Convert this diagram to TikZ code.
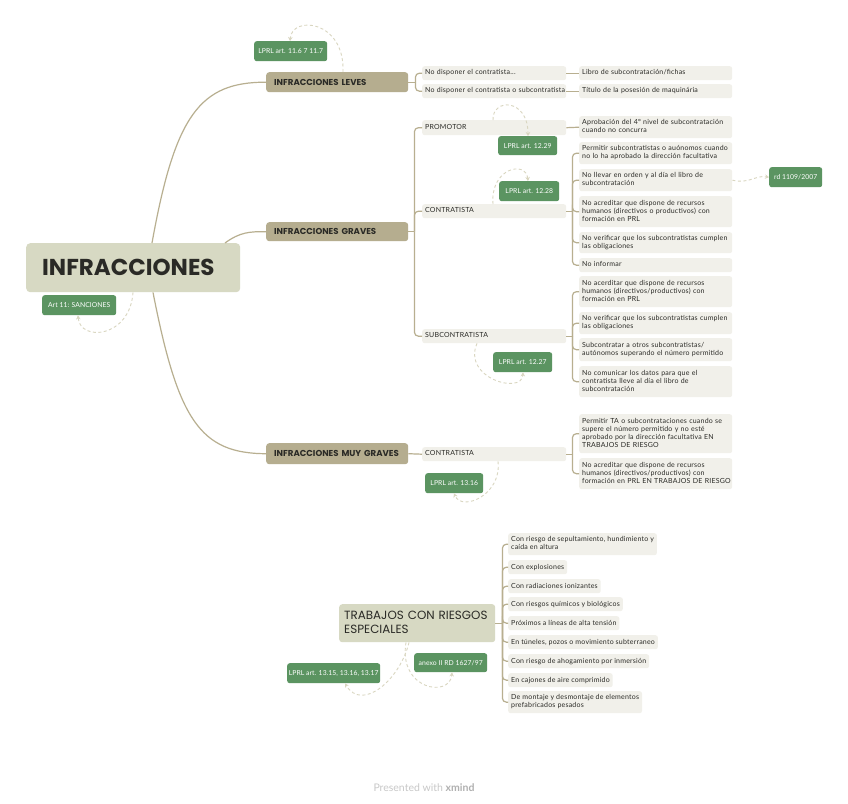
\documentclass[tikz,border=0pt]{standalone}
\usepackage{fontspec}
\setmainfont{Lato}
\newfontfamily\smallf{Lato}[LetterSpace=3]
\newfontfamily\greenf{Lato}[LetterSpace=1]
\newfontfamily\headfont{Poppins}
\usetikzlibrary{arrows.meta,calc}
\newcommand\lns[1]{\begin{tabular}{@{}l@{}}#1\end{tabular}}
\definecolor{tanfill}{HTML}{B5AD8F}
\definecolor{rootfill}{HTML}{D7D9C3}
\definecolor{subfill}{HTML}{F1F0EA}
\definecolor{greenfill}{HTML}{5B9461}
\definecolor{connc}{HTML}{B8AF90}
\definecolor{relc}{HTML}{D9D6C0}
\definecolor{txt}{HTML}{2A2A26}
\definecolor{footc}{HTML}{C8C8C8}
\definecolor{footb}{HTML}{B0B0B0}
\begin{document}
\begin{tikzpicture}[x=1pt,y=-1pt,
  sub/.style={fill=subfill, rounded corners=2.5pt, inner xsep=3pt, inner ysep=0.5pt,
    font=\smallf\fontsize{7}{8}\selectfont, text=txt, align=left, anchor=north west},
  wsub/.style={sub, text width=147pt, minimum height=#1},
  msub/.style={sub, text width=138pt, minimum height=14pt},
  tsub/.style={sub, minimum height=#1},
  greenbox/.style={fill=greenfill, text=white, rounded corners=2.5pt, inner sep=1pt,
    font=\greenf\fontsize{6.8}{8}\selectfont, anchor=north west, minimum height=20pt},
  maintopic/.style={fill=tanfill, rounded corners=3pt, inner xsep=8pt, inner ysep=1pt,
    text width=126pt, minimum height=20pt, align=left, anchor=north west, text=txt,
    font=\headfont\bfseries\fontsize{8.6}{10}\selectfont},
  conn/.style={draw=connc, line width=1.2pt},
  bracket/.style={conn, rounded corners=4pt},
  rel/.style={draw=relc, line width=0.9pt, dash pattern=on 3pt off 2.5pt,
    -{Stealth[length=4pt,width=4.5pt]}}
]
\useasboundingbox[fill=white] (0,0) rectangle (848,803);

% root
\node[fill=rootfill, rounded corners=4pt, anchor=north west, minimum height=49pt,
  text width=182pt, inner xsep=16pt, align=left, text=txt,
  font=\headfont\bfseries\fontsize{23}{26}\selectfont] (root) at (26,243) {\mbox{INFRACCIONES}};
\node[greenbox, minimum width=74pt] (art11) at (42,295) {Art 11: SANCIONES};

% main topics
\node[maintopic] (leves) at (266,72) {\mbox{INFRACCIONES LEVES}};
\node[maintopic, minimum height=19pt] (graves) at (266,222) {\mbox{INFRACCIONES GRAVES}};
\node[maintopic, minimum height=21pt] (muy) at (266,443) {\mbox{INFRACCIONES MUY GRAVES}};

% leves
\node[msub] (l1) at (422,66) {\lns{No disponer el contratista...}};
\node[msub] (l2) at (422,84) {\lns{No disponer el contratista o subcontratista}};
\node[wsub=14pt] (l1b) at (579,66) {\lns{Libro de subcontratación/fichas}};
\node[wsub=14pt] (l2b) at (579,84) {\lns{Título de la posesión de maquinária}};
\node[greenbox, minimum width=73pt] (g1) at (254,41) {LPRL art. 11.6 7 11.7};

% graves
\node[msub, minimum height=15pt] (promotor) at (422,120) {\lns{PROMOTOR}};
\node[wsub=22pt] (aprob) at (579,116) {\lns{Aprobación del 4º nivel de subcontratación\\cuando no concurra}};
\node[greenbox, minimum width=59pt, minimum height=19pt] (g2) at (498,136) {LPRL art. 12.29};

\node[msub] (contr) at (422,204) {\lns{CONTRATISTA}};
\node[wsub=22pt] (c1) at (579,142) {\lns{Permitir subcontratistas o auónomos cuando\\no lo ha aprobado la dirección facultativa}};
\node[wsub=22pt] (c2) at (579,169) {\lns{No llevar en orden y al día el libro de\\subcontratación}};
\node[wsub=31pt] (c3) at (579,196) {\lns{No acreditar que dispone de recursos\\humanos (directivos o productivos) con\\formación en PRL}};
\node[wsub=21pt] (c4) at (579,232) {\lns{No verificar que los subcontratistas cumplen\\las obligaciones}};
\node[wsub=14pt] (c5) at (579,258) {\lns{No informar}};
\node[greenbox, minimum width=60pt] (g3) at (499,181) {LPRL art. 12.28};
\node[greenbox, minimum width=53pt] (rd) at (769,167) {rd 1109/2007};

\node[msub] (subc) at (422,329) {\lns{SUBCONTRATISTA}};
\node[wsub=31pt] (s1) at (579,276) {\lns{No acerditar que dispone de recursos\\humanos (directivos/productivos) con\\formación en PRL}};
\node[wsub=22pt] (s2) at (579,312) {\lns{No verificar que los subcontratistas cumplen\\las obligaciones}};
\node[wsub=23pt] (s3) at (579,338) {\lns{Subcontratar a otros subcontratistas/\\autónomos superando el número permitido}};
\node[wsub=31pt] (s4) at (579,366) {\lns{No comunicar los datos para que el\\contratista lleve al día el libro de\\subcontratación}};
\node[greenbox, minimum width=59pt] (g4) at (493,352) {LPRL art. 12.27};

% muy graves
\node[msub] (mc) at (422,447) {\lns{CONTRATISTA}};
\node[wsub=39pt] (m1) at (579,414) {\lns{Permitir TA o subcontrataciones cuando se\\supere el número permitido y no esté\\aprobado por la dirección facultativa EN\\TRABAJOS DE RIESGO}};
\node[wsub=31pt] (m2) at (579,458) {\lns{No acreditar que dispone de recursos\\humanos (directivos/productivos) con\\formación en PRL EN TRABAJOS DE RIESGO}};
\node[greenbox, minimum width=58pt] (g5) at (425,473) {LPRL art. 13.16};

% trabajos
\node[fill=rootfill, rounded corners=3pt, anchor=north west, minimum height=38pt,
  text width=146pt, inner xsep=5pt, inner ysep=1pt, align=left, text=txt,
  font=\headfont\fontsize{11.9}{14}\selectfont] (trab) at (339,604) {\lns{TRABAJOS CON RIESGOS\\ESPECIALES}};
\node[tsub=22pt] (t1) at (508,533) {\lns{Con riesgo de sepultamiento, hundimiento y\\caída en altura}};
\node[tsub=14pt] (t2) at (508,560) {Con explosiones};
\node[tsub=14pt] (t3) at (508,579) {Con radiaciones ionizantes};
\node[tsub=14pt] (t4) at (508,597) {Con riesgos químicos y biológicos};
\node[tsub=14pt] (t5) at (508,616) {Próximos a líneas de alta tensión};
\node[tsub=14pt] (t6) at (508,635) {En túneles, pozos o movimiento subterraneo};
\node[tsub=14pt] (t7) at (508,654) {Con riesgo de ahogamiento por inmersión};
\node[tsub=14pt] (t8) at (508,673) {En cajones de aire comprimido};
\node[tsub=22pt] (t9) at (508,691) {\lns{De montaje y desmontaje de elementos\\prefabricados pesados}};
\node[greenbox, minimum width=73pt, minimum height=19pt] (anexo) at (414,653) {anexo II RD 1627/97};
\node[greenbox, minimum width=93pt] (g7) at (287,663) {LPRL art. 13.15, 13.16, 13.17};

\node[text=footc, font=\fontsize{10.5}{12}\selectfont, inner sep=0pt] (foot) at (424,788) {Presented with \textcolor{footb}{\textbf{xmind}}};

% root connectors
\draw[conn] ($(root.north west)+(126,0)$) .. controls (175,115) and (200,82) .. (leves.west);
\draw[conn] ($(root.north west)+(199,0)$) .. controls (240,232) and (250,231.5) .. (graves.west);
\draw[conn] ($(root.south west)+(127,0)$) .. controls (178,420) and (200,453.5) .. (muy.west);

% leves branches
\draw[conn] (leves.east) -- ++(7,0) coordinate (jl);
\draw[bracket] (jl) |- (l1.west);
\draw[bracket] (jl) |- (l2.west);
\draw[conn] (l1.east) -- (l1b.west);
\draw[conn] (l2.east) -- (l2b.west);

% graves branches
\draw[conn] (graves.east) -- ++(6,0) coordinate (jg);
\draw[bracket] (jg) |- (promotor.west);
\draw[bracket] (jg) |- (contr.west);
\draw[bracket] (jg) |- (subc.west);
\draw[conn] (promotor.east) -- (aprob.west);
\draw[conn] (contr.east) -- ++(6,0) coordinate (jc);
\foreach \n in {c1,c2,c3,c4,c5} \draw[bracket] (jc) |- (\n.west);
\draw[conn] (subc.east) -- ++(6,0) coordinate (js);
\foreach \n in {s1,s2,s3,s4} \draw[bracket] (js) |- (\n.west);

% muy graves branches
\draw[conn] (muy.east) -- (mc.west);
\draw[conn] (mc.east) -- ++(6,0) coordinate (jm);
\foreach \n in {m1,m2} \draw[bracket] (jm) |- (\n.west);

% trabajos branches
\draw[conn] (trab.east) -- ++(7,0) coordinate (jt);
\foreach \n in {t1,t2,t3,t4,t5,t6,t7,t8,t9} \draw[bracket] (jt) |- (\n.west);

% relationships
\draw[rel] ($(root.south west)+(107,0)$) .. controls (130,338) and (80,342) .. ($(art11.south west)+(36,0)$);
\draw[rel] ($(leves.north west)+(77,0)$) .. controls (345,20) and (292,15) .. ($(g1.north west)+(36,0)$);
\draw[rel] ($(promotor.north west)+(71,0)$) .. controls (492,98) and (528,98) .. ($(g2.north west)+(30,0)$);
\draw[rel] ($(contr.north west)+(71,0)$) .. controls (490,168) and (526,160) .. ($(g3.north west)+(29,0)$);
\draw[rel] ($(subc.south west)+(55,0)$) .. controls (462,378) and (522,395) .. ($(g4.south west)+(30,0)$);
\draw[rel] ($(mc.south west)+(76,0)$) .. controls (502,495) and (462,512) .. ($(g5.south west)+(29,0)$);
\draw[rel] (c2.east) .. controls (750,184) and (755,175) .. (rd.west);
\draw[rel] ($(trab.south west)+(67,0)$) .. controls (398,690) and (450,698) .. ($(anexo.south west)+(38,0)$);
\draw[rel] ($(trab.south west)+(70,0)$) .. controls (400,680) and (362,712) .. ($(g7.south west)+(58,0)$);
\end{tikzpicture}
\end{document}
